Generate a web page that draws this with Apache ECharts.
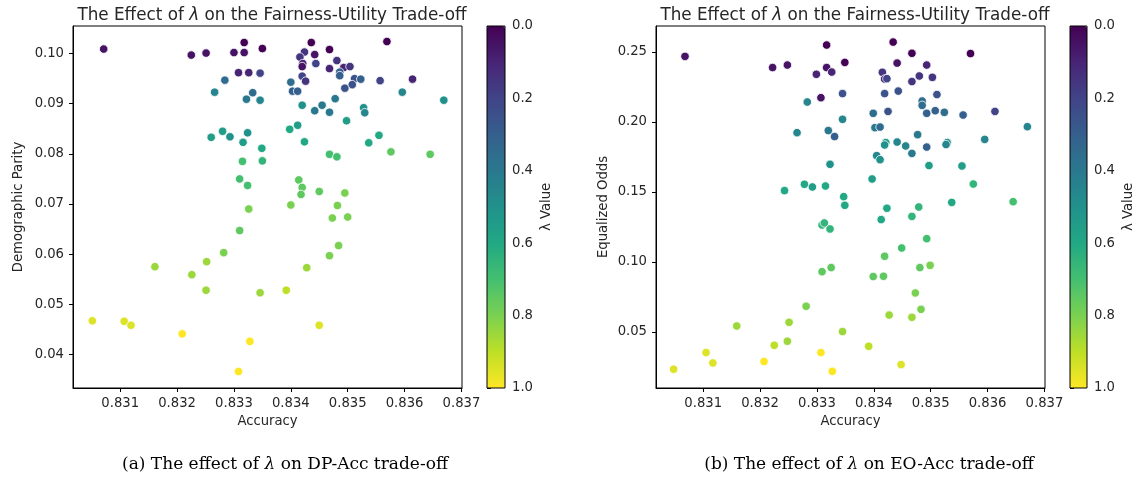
<!DOCTYPE html>
<html>
<head>
<meta charset="utf-8">
<script src="https://cdn.jsdelivr.net/npm/echarts@6/dist/echarts.min.js"></script>
<style>
  html, body { margin: 0; padding: 0; background: #fff; }
  #chartmain { width: 1137px; height: 485px; }
</style>
</head>
<body>
<div id="chartmain"></div>
<script>
// left panel: accuracy vs demographic parity, coloured by lambda
var dpAcc = [0.83071, 0.83225, 0.83251, 0.83300, 0.83318, 0.83318, 0.83350, 0.83308, 0.83326, 0.83346,
    0.83284, 0.83266, 0.83333, 0.83322, 0.83346, 0.83260, 0.83280, 0.83293, 0.83324, 0.83316,
    0.83349, 0.83315, 0.83350, 0.83310, 0.83324, 0.83326, 0.83310, 0.83282, 0.83252, 0.83161,
    0.83226, 0.83251, 0.83346, 0.83051, 0.83107, 0.83119, 0.83209, 0.83328, 0.83308, 0.83484,
    0.83468, 0.83428, 0.83392, 0.83450, 0.83436, 0.83569, 0.83468, 0.83424, 0.83416, 0.83442,
    0.83421, 0.83420, 0.83444, 0.83481, 0.83468, 0.83493, 0.83504, 0.83486, 0.83486, 0.83420,
    0.83426, 0.83400, 0.83403, 0.83412, 0.83512, 0.83523, 0.83508, 0.83495, 0.83557, 0.83614,
    0.83596, 0.83669, 0.83478, 0.83420, 0.83455, 0.83442, 0.83468, 0.83528, 0.83530, 0.83498,
    0.83412, 0.83398, 0.83424, 0.83555, 0.83537, 0.83468, 0.83481, 0.83576, 0.83645, 0.83414,
    0.83420, 0.83418, 0.83450, 0.83495, 0.83400, 0.83482, 0.83473, 0.83500];
var dpVal = [0.1009, 0.0997, 0.1001, 0.1002, 0.1022, 0.1002, 0.1010, 0.0962, 0.0962, 0.0961,
    0.0947, 0.0923, 0.0922, 0.0909, 0.0907, 0.0833, 0.0845, 0.0834, 0.0842, 0.0823,
    0.0811, 0.0785, 0.0786, 0.0750, 0.0737, 0.0690, 0.0647, 0.0603, 0.0585, 0.0575,
    0.0559, 0.0528, 0.0523, 0.0467, 0.0466, 0.0458, 0.0441, 0.0426, 0.0366, 0.0617,
    0.0597, 0.0573, 0.0528, 0.0458, 0.1022, 0.1024, 0.1008, 0.1003, 0.0993, 0.0998,
    0.0980, 0.0974, 0.0980, 0.0986, 0.0970, 0.0972, 0.0974, 0.0963, 0.0956, 0.0955,
    0.0945, 0.0943, 0.0925, 0.0925, 0.0950, 0.0949, 0.0938, 0.0931, 0.0946, 0.0949,
    0.0923, 0.0907, 0.0910, 0.0897, 0.0897, 0.0886, 0.0883, 0.0892, 0.0882, 0.0866,
    0.0857, 0.0849, 0.0824, 0.0837, 0.0822, 0.0799, 0.0794, 0.0804, 0.0799, 0.0748,
    0.0733, 0.0719, 0.0725, 0.0722, 0.0698, 0.0697, 0.0672, 0.0674];
var dpLam = [0.05, 0.05, 0.05, 0.05, 0.0, 0.05, 0.0, 0.1, 0.1, 0.2,
    0.35, 0.45, 0.35, 0.4, 0.45, 0.55, 0.55, 0.5, 0.5, 0.55,
    0.6, 0.7, 0.65, 0.7, 0.7, 0.8, 0.75, 0.8, 0.85, 0.85,
    0.85, 0.85, 0.85, 0.95, 0.95, 0.95, 1.0, 1.0, 1.0, 0.8,
    0.8, 0.85, 0.9, 0.95, 0.0, 0.0, 0.0, 0.15, 0.15, 0.05,
    0.1, 0.05, 0.2, 0.15, 0.1, 0.1, 0.15, 0.3, 0.3, 0.2,
    0.15, 0.35, 0.3, 0.3, 0.25, 0.3, 0.25, 0.25, 0.2, 0.1,
    0.45, 0.5, 0.4, 0.5, 0.4, 0.4, 0.4, 0.5, 0.45, 0.55,
    0.55, 0.6, 0.6, 0.6, 0.6, 0.7, 0.7, 0.75, 0.75, 0.75,
    0.75, 0.75, 0.75, 0.8, 0.8, 0.8, 0.8, 0.8];

// right panel: accuracy vs equalized odds
var eoAcc = [0.83068, 0.83222, 0.83248, 0.83317, 0.83317, 0.83299, 0.83326, 0.83349, 0.83307, 0.83283,
    0.83345, 0.83345, 0.83265, 0.83320, 0.83331, 0.83323, 0.83243, 0.83278, 0.83292, 0.83315,
    0.83347, 0.83349, 0.83309, 0.83313, 0.83323, 0.83309, 0.83325, 0.83281, 0.83159, 0.83251,
    0.83248, 0.83225, 0.83345, 0.83048, 0.83105, 0.83117, 0.83207, 0.83307, 0.83327, 0.83493,
    0.83449, 0.83419, 0.83481, 0.83499, 0.83399, 0.83417, 0.83473, 0.83483, 0.83427, 0.83467,
    0.83391, 0.83448, 0.83434, 0.83467, 0.83570, 0.83441, 0.83493, 0.83415, 0.83419, 0.83423,
    0.83480, 0.83467, 0.83503, 0.83419, 0.83443, 0.83511, 0.83485, 0.83485, 0.83425, 0.83399,
    0.83493, 0.83508, 0.83524, 0.83557, 0.83613, 0.83402, 0.83411, 0.83670, 0.83477, 0.83421,
    0.83419, 0.83441, 0.83456, 0.83493, 0.83467, 0.83529, 0.83527, 0.83595, 0.83405, 0.83411,
    0.83497, 0.83555, 0.83397, 0.83575, 0.83537, 0.83645, 0.83423, 0.83479, 0.83413, 0.83467];
var eoVal = [0.2469, 0.2389, 0.2407, 0.2550, 0.2389, 0.2341, 0.2357, 0.2426, 0.2174, 0.2143,
    0.2203, 0.2019, 0.1924, 0.1939, 0.1896, 0.1698, 0.1510, 0.1555, 0.1536, 0.1543,
    0.1467, 0.1405, 0.1264, 0.1279, 0.1236, 0.0931, 0.0960, 0.0684, 0.0543, 0.0569,
    0.0434, 0.0405, 0.0503, 0.0234, 0.0353, 0.0279, 0.0289, 0.0353, 0.0219, 0.1167,
    0.1100, 0.1041, 0.0960, 0.0976, 0.0896, 0.0898, 0.0779, 0.0662, 0.0621, 0.0605,
    0.0398, 0.0267, 0.2571, 0.2491, 0.2489, 0.2421, 0.2407, 0.2355, 0.2307, 0.2310,
    0.2329, 0.2289, 0.2319, 0.2203, 0.2221, 0.2196, 0.2150, 0.2119, 0.2076, 0.2062,
    0.2062, 0.2081, 0.2069, 0.2050, 0.2076, 0.1960, 0.1964, 0.1967, 0.1910, 0.1853,
    0.1836, 0.1857, 0.1829, 0.1821, 0.1776, 0.1853, 0.1839, 0.1876, 0.1760, 0.1731,
    0.1689, 0.1686, 0.1593, 0.1557, 0.1426, 0.1431, 0.1384, 0.1393, 0.1303, 0.1326];
var eoLam = [0.05, 0.05, 0.05, 0.0, 0.05, 0.1, 0.1, 0.0, 0.05, 0.45,
    0.25, 0.45, 0.45, 0.4, 0.3, 0.5, 0.6, 0.6, 0.55, 0.6,
    0.6, 0.6, 0.65, 0.65, 0.65, 0.75, 0.75, 0.8, 0.85, 0.85,
    0.85, 0.9, 0.85, 0.95, 0.95, 0.95, 1.0, 1.0, 1.0, 0.7,
    0.7, 0.75, 0.75, 0.8, 0.75, 0.75, 0.8, 0.8, 0.85, 0.85,
    0.9, 0.95, 0.0, 0.0, 0.0, 0.05, 0.1, 0.15, 0.1, 0.2,
    0.15, 0.15, 0.15, 0.25, 0.25, 0.25, 0.35, 0.35, 0.25, 0.35,
    0.3, 0.3, 0.35, 0.3, 0.2, 0.4, 0.35, 0.45, 0.4, 0.55,
    0.5, 0.45, 0.45, 0.3, 0.4, 0.5, 0.45, 0.45, 0.45, 0.5,
    0.55, 0.55, 0.55, 0.65, 0.6, 0.7, 0.6, 0.65, 0.6, 0.65];

// tick labels
var accTicks = [0.831, 0.832, 0.833, 0.834, 0.835, 0.836, 0.837];
var dpTicks = [0.04, 0.05, 0.06, 0.07, 0.08, 0.09, 0.10];
var eoTicks = [0.05, 0.10, 0.15, 0.20, 0.25];
var lamTicks = [0, 0.2, 0.4, 0.6, 0.8, 1.0];

var viridis = ['#440154', '#482475', '#414487', '#355f8d', '#2a788e', '#21918c',
    '#22a884', '#44bf70', '#7ad151', '#bddf26', '#fde725'];

function pack(xs, ys, ls) {
    return xs.map(function (x, i) { return [x, ys[i], ls[i]]; });
}

var font = 'DejaVu Sans';
var ink = '#262626';
var fs = 13.2;

function valAxis(idx, min, max, ticks, digits, name, nameGap) {
    return {
        type: 'value', gridIndex: idx, min: min, max: max,
        name: name, nameLocation: 'middle', nameGap: nameGap,
        nameTextStyle: {fontFamily: font, fontSize: fs, color: ink},
        axisLine: {show: true, onZero: false, lineStyle: {color: '#000', width: 1}},
        axisTick: {show: true, length: 4, customValues: ticks, lineStyle: {color: '#000'}},
        axisLabel: {
            customValues: ticks, margin: 9, fontFamily: font, fontSize: fs, color: ink,
            formatter: function (v) { return v.toFixed(digits); }
        },
        splitLine: {show: false}
    };
}

function barAxis(idx) {
    return {
        type: 'value', gridIndex: idx, min: 0, max: 1, inverse: true, position: 'right',
        name: 'λ Value', nameLocation: 'middle', nameGap: 35, nameRotate: 90,
        nameTextStyle: {fontFamily: font, fontSize: fs, color: ink},
        axisLine: {show: false},
        axisTick: {show: true, length: 4, customValues: lamTicks, lineStyle: {color: '#000'}},
        axisLabel: {
            customValues: lamTicks, margin: 7, fontFamily: font, fontSize: fs, color: ink,
            formatter: function (v) { return v.toFixed(1); }
        },
        splitLine: {show: false}
    };
}

var titleText = 'The Effect of {i|λ} on the Fairness-Utility Trade-off';
var titleStyle = {
    fontFamily: font, fontSize: 16.8, fontWeight: 'normal', color: ink,
    rich: {i: {fontFamily: font, fontSize: 16.8, fontStyle: 'italic', color: ink}}
};
var capStyle = {
    fontFamily: 'DejaVu Serif', fontSize: 17, fontWeight: 'normal', color: '#000',
    rich: {i: {fontFamily: 'DejaVu Serif', fontSize: 17, fontStyle: 'italic', color: '#000'}}
};

var myChart = echarts.init(document.getElementById('chartmain'), null, {renderer: 'canvas'});
var option = {
    backgroundColor: '#fff',
    animation: false,
    title: [
        {text: titleText, left: 267, top: 2, textAlign: 'center', textStyle: titleStyle},
        {text: titleText, left: 850, top: 2, textAlign: 'center', textStyle: titleStyle},
        {text: '(a) The effect of {i|λ} on DP-Acc trade-off', left: 280, top: 451, textAlign: 'center', textStyle: capStyle},
        {text: '(b) The effect of {i|λ} on EO-Acc trade-off', left: 864, top: 451, textAlign: 'center', textStyle: capStyle}
    ],
    grid: [
        {left: 73, top: 26, width: 389, height: 362, show: true, borderColor: '#000', borderWidth: 1, backgroundColor: 'transparent'},
        {left: 656, top: 26, width: 389, height: 362, show: true, borderColor: '#000', borderWidth: 1, backgroundColor: 'transparent'},
        {left: 487, top: 26, width: 18, height: 362, show: true, borderColor: '#000', borderWidth: 1, backgroundColor: 'transparent', z: 10},
        {left: 1070, top: 26, width: 17, height: 362, show: true, borderColor: '#000', borderWidth: 1, backgroundColor: 'transparent', z: 10}
    ],
    xAxis: [
        valAxis(0, 0.83017, 0.83701, accTicks, 3, 'Accuracy', 27),
        valAxis(1, 0.83017, 0.83701, accTicks, 3, 'Accuracy', 27),
        {type: 'value', gridIndex: 2, show: false},
        {type: 'value', gridIndex: 3, show: false}
    ],
    yAxis: [
        valAxis(0, 0.0333, 0.1055, dpTicks, 2, 'Demographic Parity', 48),
        valAxis(1, 0.0100, 0.2686, eoTicks, 2, 'Equalized Odds', 46),
        barAxis(2),
        barAxis(3)
    ],
    visualMap: [
        {
            type: 'continuous', min: 0, max: 1, dimension: 2, seriesIndex: 0,
            inverse: true, calculable: false, hoverLink: false, text: null, padding: 0,
            left: 487, top: 26, itemWidth: 18, itemHeight: 362,
            inRange: {color: viridis}
        },
        {
            type: 'continuous', min: 0, max: 1, dimension: 2, seriesIndex: 1,
            inverse: true, calculable: false, hoverLink: false, text: null, padding: 0,
            left: 1070, top: 26, itemWidth: 17, itemHeight: 362,
            inRange: {color: viridis}
        }
    ],
    series: [
        {
            type: 'scatter', xAxisIndex: 0, yAxisIndex: 0, symbolSize: 8.5,
            itemStyle: {borderColor: '#fff', borderWidth: 0.8, opacity: 1},
            data: pack(dpAcc, dpVal, dpLam)
        },
        {
            type: 'scatter', xAxisIndex: 1, yAxisIndex: 1, symbolSize: 8.5,
            itemStyle: {borderColor: '#fff', borderWidth: 0.8, opacity: 1},
            data: pack(eoAcc, eoVal, eoLam)
        }
    ]
};
myChart.setOption(option);
</script>
</body>
</html>
